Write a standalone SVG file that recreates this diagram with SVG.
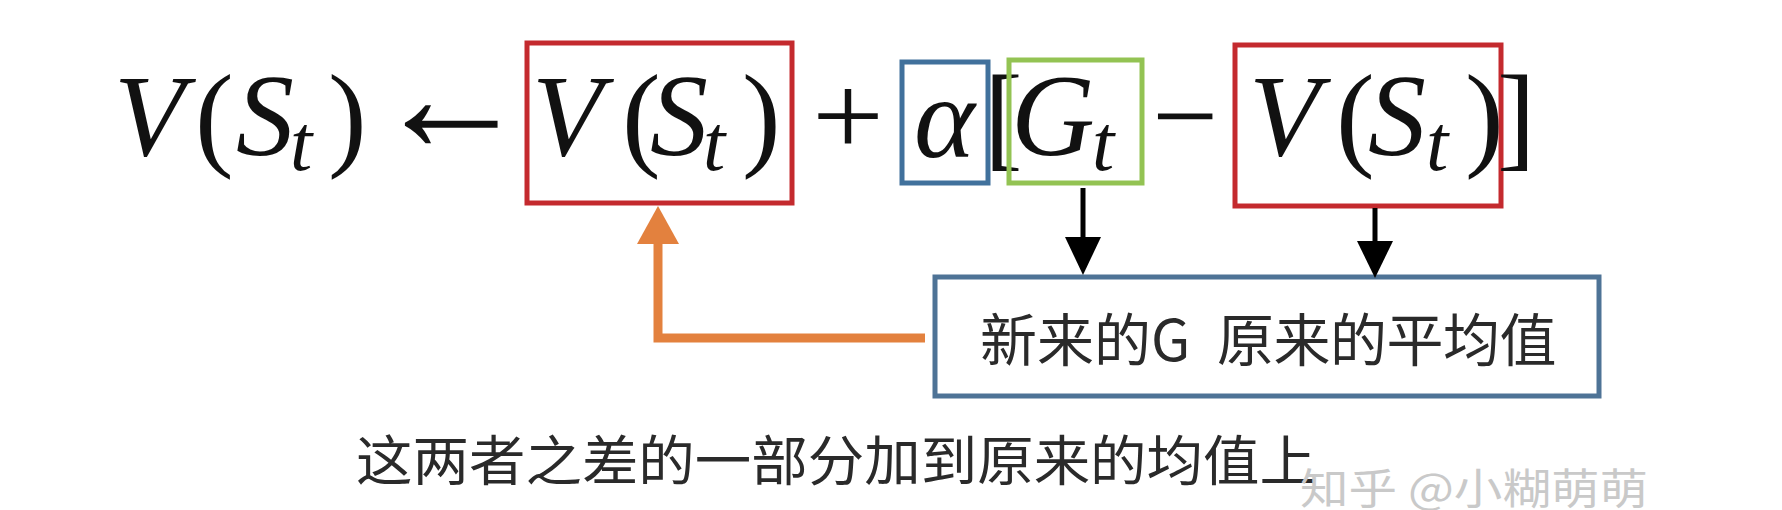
<svg xmlns="http://www.w3.org/2000/svg" width="1782" height="510" viewBox="0 0 1782 510">
<defs>
<style>
.m{font-family:"Liberation Serif","DejaVu Serif",serif;font-size:116px;fill:#111}
.i{font-style:italic}
.sub{font-family:"Liberation Serif","DejaVu Serif",serif;font-style:italic;font-size:80px;fill:#111}
.cjk{font-family:"Noto Sans CJK SC","Noto Sans",sans-serif;fill:#2a2a2a}
.box{fill:none;stroke-width:5}
.blk{stroke:#000;stroke-width:5;fill:none}
</style>
</defs>
<rect width="1782" height="510" fill="#fff"/>

<g id="lhs">
<text class="m i" x="114" y="155">V</text>
<text class="m" x="195" y="155">(</text>
<text class="m i" x="236" y="155">S</text>
<text class="sub" x="290" y="170">t</text>
<text class="m" x="328" y="155">)</text>
<text class="m" transform="translate(373,151) scale(1.35,1.4)" x="0" y="0">←</text>
</g>

<g id="vst-box1">
<rect class="box" x="527" y="43" width="265" height="160" stroke="#C42A2E"/>
<text class="m i" x="532" y="155">V</text>
<text class="m" x="622" y="155">(</text>
<text class="m i" x="650" y="155">S</text>
<text class="sub" x="703" y="170">t</text>
<text class="m" x="742" y="155">)</text>
</g>

<text class="m" x="812" y="155" textLength="72" lengthAdjust="spacingAndGlyphs">+</text>

<g id="alpha-box">
<rect class="box" x="902" y="62" width="86" height="121" stroke="#41719C"/>
<text class="m i" x="914" y="157">α</text>
</g>

<text class="m" x="984" y="155">[</text>

<g id="gt-box">
<rect class="box" x="1009" y="60" width="133" height="123" stroke="#93C353"/>
<text class="m i" x="1011" y="155">G</text>
<text class="sub" x="1092" y="170">t</text>
</g>

<text class="m" x="1152" y="155" textLength="66" lengthAdjust="spacingAndGlyphs">−</text>

<g id="vst-box2">
<rect class="box" x="1235" y="45" width="266" height="161" stroke="#C42A2E"/>
<text class="m i" x="1249" y="155">V</text>
<text class="m" x="1336" y="155">(</text>
<text class="m i" x="1368" y="155">S</text>
<text class="sub" x="1426" y="170">t</text>
<text class="m" x="1465" y="155">)</text>
</g>

<text class="m" x="1497" y="155">]</text>

<g id="explain-box">
<rect class="box" x="935" y="277" width="664" height="119" stroke="#4E7396"/>
<text class="cjk" x="980 1037 1094 1151" y="361" font-size="57">新来的G</text>
<text class="cjk" x="1217 1273.5 1330 1386.5 1443 1499.5" y="361" font-size="57">原来的平均值</text>
</g>

<g id="connectors">
<line class="blk" x1="1083" y1="188" x2="1083" y2="240"/>
<path d="M1083,275 L1065,237 L1101,237 z" fill="#000"/>
<line class="blk" x1="1375" y1="208" x2="1375" y2="244"/>
<path d="M1375,278 L1357,241 L1393,241 z" fill="#000"/>
<polyline points="925,338 658,338 658,240" fill="none" stroke="#E3813E" stroke-width="9"/>
<path d="M658,206 L679,244 L637,244 z" fill="#E3813E"/>
</g>

<g id="caption">
<text class="cjk" x="356" y="481" font-size="54" textLength="960" lengthAdjust="spacingAndGlyphs">这两者之差的一部分加到原来的均值上</text>
</g>

<text class="cjk" x="1300" y="504" font-size="42" style="fill:#c9c9c9" textLength="348" lengthAdjust="spacingAndGlyphs">知乎 @小糊萌萌</text>
</svg>
